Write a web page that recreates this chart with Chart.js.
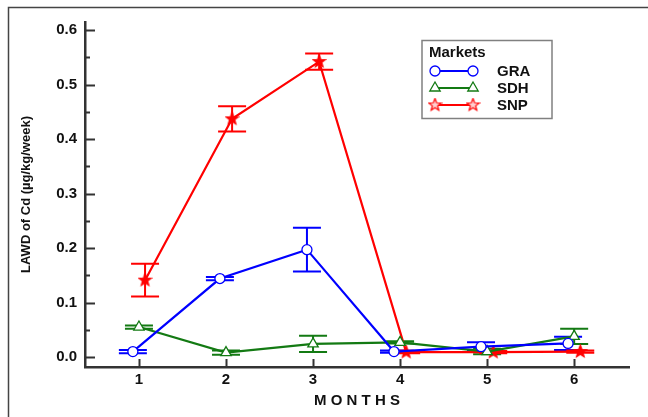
<!DOCTYPE html>
<html>
<head>
<meta charset="utf-8">
<script src="https://cdn.jsdelivr.net/npm/chart.js@4.4.1/dist/chart.umd.min.js"></script>
<style>
  html, body { margin: 0; padding: 0; background: #fff; }
</style>
</head>
<body>
<canvas id="chart" width="648" height="417"></canvas>
<script>
// months on the x axis
const months = [1, 2, 3, 4, 5, 6];

// GRA market
const graMean = [0.010, 0.144, 0.197, 0.010, 0.019, 0.025];
const graErr  = [0.003, 0.003, 0.040, 0.002, 0.008, 0.012];
// SDH market
const sdhMean = [0.055, 0.008, 0.024, 0.027, 0.010, 0.038];
const sdhErr  = [0.003, 0.004, 0.015, 0.002, 0.005, 0.014];
// SNP market
const snpMean = [0.141, 0.437, 0.542, 0.009, 0.009, 0.010];
const snpErr  = [0.030, 0.023, 0.015, 0.002, 0.002, 0.002];

const yTicks = [0, 0.1, 0.2, 0.3, 0.4, 0.5, 0.6];
const yMinorTicks = [0.05, 0.15, 0.25, 0.35, 0.45, 0.55];

const FONT = '"Liberation Sans", Arial, sans-serif';
const BLUE = '#0000ff', GREEN = '#137a13', RED = '#ff0000';

// five point star used as marker for SNP
function makeStar(color, fill) {
  const c = document.createElement('canvas');
  c.width = 15; c.height = 15;
  const g = c.getContext('2d');
  g.beginPath();
  for (let i = 0; i < 10; i++) {
    const r = i % 2 === 0 ? 6.5 : 2.8;
    const a = -Math.PI / 2 + i * Math.PI / 5;
    g.lineTo(7.5 + r * Math.cos(a), 7.5 + r * Math.sin(a));
  }
  g.closePath();
  g.fillStyle = fill;
  g.fill();
  g.strokeStyle = color;
  g.lineWidth = 1.2;
  g.stroke();
  return c;
}
const starImg = makeStar(RED, RED);
const starLegendImg = makeStar(RED, '#ffd0d0');

function series(mean, err, shift) {
  return months.map((m, i) => ({ x: m + shift, y: mean[i], e: err[i] }));
}

const errorBars = {
  id: 'errorBars',
  beforeDatasetsDraw(chart) {
    const { ctx, scales: { x, y } } = chart;
    ctx.save();
    chart.data.datasets.forEach(ds => {
      ctx.strokeStyle = ds.borderColor;
      ctx.lineWidth = 2;
      ds.data.forEach(p => {
        const px = x.getPixelForValue(p.x);
        const top = y.getPixelForValue(p.y + p.e);
        const bot = y.getPixelForValue(p.y - p.e);
        ctx.beginPath();
        ctx.moveTo(px, top); ctx.lineTo(px, bot);
        ctx.moveTo(px - 14, top); ctx.lineTo(px + 14, top);
        ctx.moveTo(px - 14, bot); ctx.lineTo(px + 14, bot);
        ctx.stroke();
      });
    });
    ctx.restore();
  }
};

const innerTicks = {
  id: 'innerTicks',
  afterDraw(chart) {
    const { ctx, scales: { x, y }, chartArea } = chart;
    ctx.save();
    ctx.strokeStyle = '#333';
    ctx.lineWidth = 2;
    ctx.beginPath();
    yTicks.forEach(v => {
      const py = Math.round(y.getPixelForValue(v)) + 0.5;
      ctx.moveTo(chartArea.left, py); ctx.lineTo(chartArea.left + 10, py);
    });
    yMinorTicks.forEach(v => {
      const py = Math.round(y.getPixelForValue(v)) + 0.5;
      ctx.moveTo(chartArea.left, py); ctx.lineTo(chartArea.left + 5, py);
    });
    months.forEach(v => {
      const px = Math.round(x.getPixelForValue(v)) + 0.5;
      ctx.moveTo(px, chartArea.bottom); ctx.lineTo(px, chartArea.bottom - 8);
    });
    ctx.stroke();

    // outer frame of the figure
    ctx.strokeStyle = '#444';
    ctx.lineWidth = 1.5;
    ctx.beginPath();
    ctx.moveTo(648, 7.5); ctx.lineTo(8.5, 7.5); ctx.lineTo(8.5, 417);
    ctx.stroke();
    ctx.restore();
  }
};

const marketLegend = {
  id: 'marketLegend',
  afterDraw(chart) {
    const { ctx } = chart;
    ctx.save();
    ctx.strokeStyle = '#808080';
    ctx.lineWidth = 1.5;
    ctx.strokeRect(422, 40.5, 130, 78);
    ctx.fillStyle = '#111';
    ctx.font = 'bold 15px ' + FONT;
    ctx.textBaseline = 'middle';
    ctx.textAlign = 'left';
    ctx.fillText('Markets', 429, 53);
    chart.data.datasets.forEach((ds, i) => {
      const ly = 71 + i * 17;
      ctx.strokeStyle = ds.borderColor;
      ctx.lineWidth = 2;
      ctx.beginPath();
      ctx.moveTo(435, ly); ctx.lineTo(473, ly);
      ctx.stroke();
      const style = ds.pointStyle === starImg ? starLegendImg : ds.pointStyle;
      [435, 473].forEach(lx => {
        ctx.fillStyle = '#fff';
        ctx.strokeStyle = ds.pointBorderColor;
        ctx.lineWidth = ds.pointBorderWidth;
        Chart.helpers.drawPoint(ctx, { pointStyle: style, radius: ds.pointRadius, borderWidth: ds.pointBorderWidth, rotation: 0 }, lx, ly);
      });
      ctx.fillStyle = '#111';
      ctx.fillText(ds.label, 497, ly + 0.5);
    });
    ctx.restore();
  }
};

new Chart(document.getElementById('chart'), {
  type: 'scatter',
  data: {
    datasets: [
      {
        label: 'GRA', data: series(graMean, graErr, -0.07), showLine: true,
        borderColor: BLUE, borderWidth: 2.2, pointStyle: 'circle', pointRadius: 5,
        pointBackgroundColor: '#fff', pointBorderColor: BLUE, pointBorderWidth: 1.3
      },
      {
        label: 'SDH', data: series(sdhMean, sdhErr, 0), showLine: true,
        borderColor: GREEN, borderWidth: 2.2, pointStyle: 'triangle', pointRadius: 6,
        pointBackgroundColor: '#fff', pointBorderColor: GREEN, pointBorderWidth: 1.3
      },
      {
        label: 'SNP', data: series(snpMean, snpErr, 0.07), showLine: true,
        borderColor: RED, borderWidth: 2.2, pointStyle: starImg, pointRadius: 7,
        pointBackgroundColor: RED, pointBorderColor: RED, pointBorderWidth: 1
      }
    ]
  },
  options: {
    responsive: false,
    animation: false,
    devicePixelRatio: 1,
    layout: { padding: { top: 22, right: 19, left: 0, bottom: 0 } },
    plugins: { legend: { display: false }, tooltip: { enabled: false } },
    scales: {
      x: {
        type: 'linear', min: 0.38, max: 6.63,
        afterBuildTicks: s => { s.ticks = months.map(v => ({ value: v })); },
        afterFit: s => { s.height = 50; },
        grid: { display: false, drawTicks: false },
        border: { display: true, color: '#333', width: 2.5 },
        ticks: { color: '#111', padding: 4, font: { family: FONT, size: 15, weight: 'bold' }, callback: v => v },
        title: { display: true, text: 'M O N T H S', color: '#111', padding: { top: 0, bottom: 7 }, font: { family: FONT, size: 15, weight: 'bold' } }
      },
      y: {
        min: -0.0183, max: 0.6147,
        afterBuildTicks: s => { s.ticks = yTicks.map(v => ({ value: v })); },
        afterFit: s => { s.width = 85; },
        grid: { display: false, drawTicks: false },
        border: { display: true, color: '#333', width: 2.5 },
        ticks: { color: '#111', padding: 8, font: { family: FONT, size: 15, weight: 'bold' }, callback: v => v.toFixed(1) },
        title: { display: true, text: 'LAWD of Cd (µg/kg/week)', color: '#111', padding: { top: 19, bottom: 0 }, font: { family: FONT, size: 13, weight: 'bold' } }
      }
    }
  },
  plugins: [errorBars, innerTicks, marketLegend]
});
</script>
</body>
</html>
